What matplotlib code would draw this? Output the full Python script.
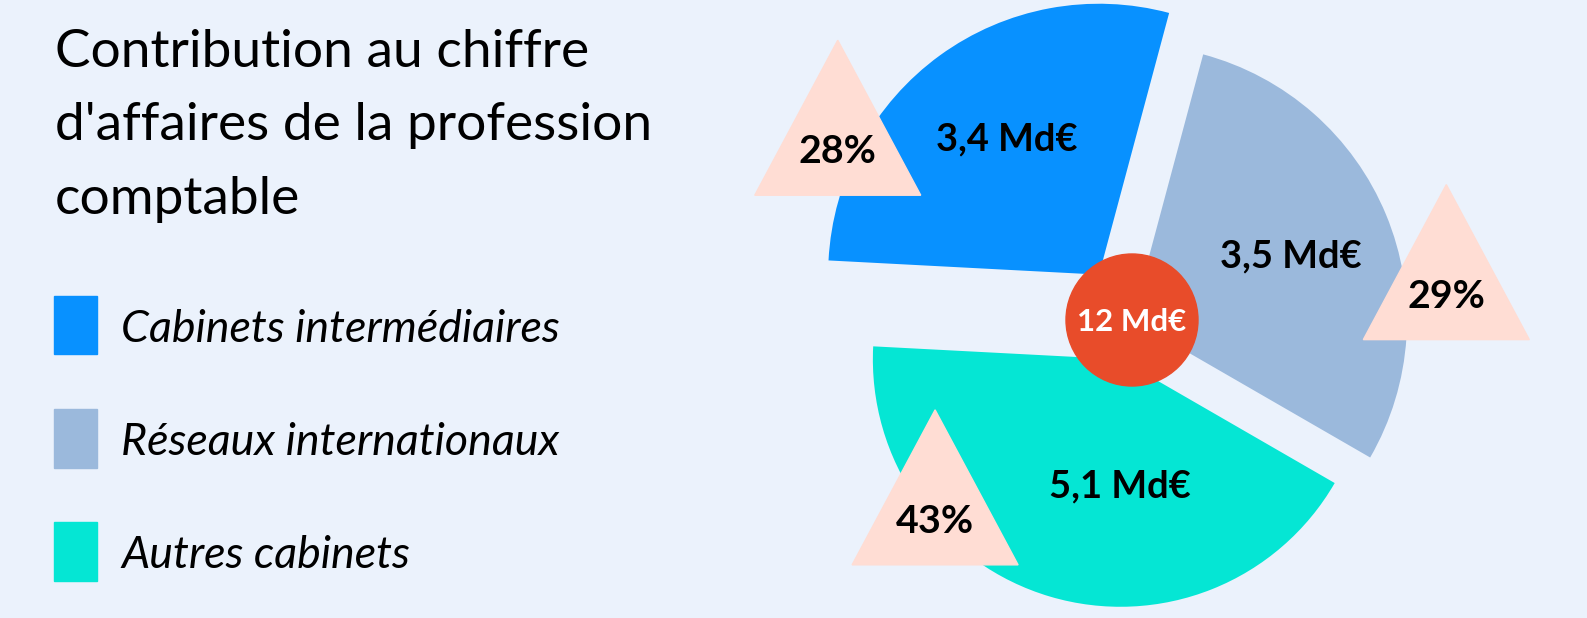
import matplotlib
matplotlib.use('Agg')
import matplotlib.pyplot as plt
from matplotlib.patches import Circle, Polygon, Rectangle

# Data
categories = ['Cabinets intermédiaires', 'Réseaux internationaux', 'Autres cabinets']
ca_md = [3.4, 3.5, 5.1]  # chiffre d'affaires en Md€
value_labels = ['3,4 Md€', '3,5 Md€', '5,1 Md€']
pct_labels = ['28%', '29%', '43%']
total_label = '12 Md€'
title_lines = ['Contribution au chiffre', "d'affaires de la profession", 'comptable']

# Style
colors = ['#0891FF', '#9BB9DC', '#05E6D4']
bg = '#EBF2FC'
red = '#E84C2A'
peach = '#FFDDD4'
font = ['Lato', 'DejaVu Sans']

W, H = 1587, 618
PX = 275.0          # pixels per data unit
CX, CY = 1132, 320  # pie centre in pixels

explode = [0.204, 0.0, 0.149]
radii = [0.985, 1.0, 0.90]
value_pos = [(-0.455, 0.616), (0.579, 0.192), (-0.044, -0.645)]
pct_pos = [(-1.070, 0.570), (1.143, 0.045), (-0.716, -0.774)]

fig = plt.figure(figsize=(W / 100, H / 100), dpi=100)
fig.patch.set_facecolor(bg)
ax = fig.add_axes([0, 0, 1, 1])
ax.set_facecolor(bg)

wedges, _ = ax.pie(ca_md, colors=colors, startangle=177, counterclock=False,
                   explode=explode, radius=1)
for w, r in zip(wedges, radii):
    w.set_radius(r)

ax.set_xlim(-CX / PX, (W - CX) / PX)
ax.set_ylim(-(H - CY) / PX, CY / PX)
ax.set_aspect('auto')
ax.axis('off')

# centre disc
ax.add_patch(Circle((0, 0), 66 / PX, color=red, zorder=5))
ax.text(0, -0.039, total_label, color='white', fontsize=22.5, fontweight='bold',
        family=font, ha='center', va='baseline', zorder=6)

# value labels
for (x, y), lab in zip(value_pos, value_labels):
    ax.text(x, y, lab, fontsize=27.4, fontweight='bold', family=font,
            ha='center', va='baseline', zorder=6)

# percentage triangles
up, down, half = 123 / PX, 32 / PX, 83 / PX
for (x, y), lab in zip(pct_pos, pct_labels):
    tri = Polygon([(x, y + up), (x - half, y - down), (x + half, y - down)],
                  closed=True, color=peach, zorder=4)
    ax.add_patch(tri)
    ax.text(x, y, lab, fontsize=28.4, fontweight='bold', family=font,
            ha='center', va='baseline', zorder=6)

# title
for i, line in enumerate(title_lines):
    fig.text(55 / W, 1 - (67 + i * 73.3) / H, line, fontsize=38.3, family=font,
             ha='left', va='baseline')

# legend
for i, (lab, c) in enumerate(zip(categories, colors)):
    top = 295.5 + i * 113.3
    fig.patches.append(Rectangle((53.6 / W, 1 - (top + 58.7) / H), 43.6 / W, 58.7 / H,
                                 transform=fig.transFigure, color=c))
    fig.text(121 / W, 1 - (top + 46) / H, lab, fontsize=32.2, style='italic',
             family=font, ha='left', va='baseline')

fig.savefig('out.png', dpi=100, facecolor=bg)
